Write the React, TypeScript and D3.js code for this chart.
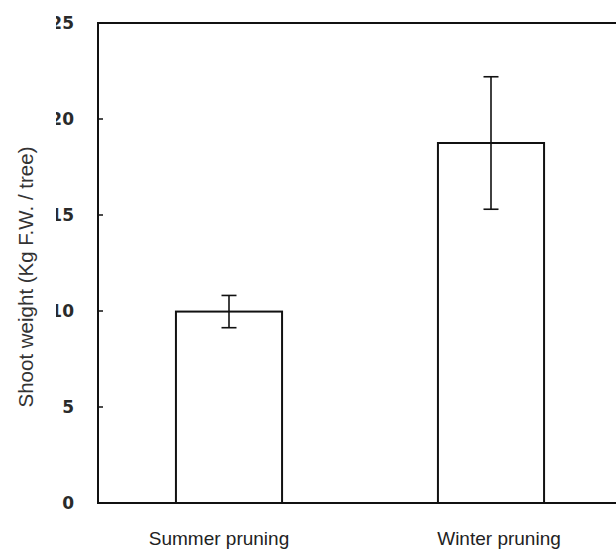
import React from "react";
import * as d3 from "d3";

// Shoot weight per tree by pruning season (mean ± error)
const categories = ["Summer pruning", "Winter pruning"];
const means = [9.97, 18.75];
const errors = [0.84, 3.45];
const yTicks = [0, 5, 10, 15, 20, 25];
// horizontal nudge of each category caption relative to its bar centre
const labelShift = [-10, 8];

const W = 616;
const H = 550;
const plot = { left: 98, right: 622, top: 23, bottom: 503 };

export default function App() {
  const x = d3
    .scaleBand<string>()
    .domain(categories)
    .range([plot.left, plot.right])
    .paddingInner(0.595)
    .paddingOuter(0.2975);
  const y = d3.scaleLinear().domain([0, 25]).range([plot.bottom, plot.top]);

  const capHalf = 7.5;

  return (
    <svg
      width={W}
      height={H}
      style={{ position: "absolute", left: 0, top: 0, background: "#fff" }}
    >
      <defs>
        <clipPath id="tickLabelClip">
          <rect x={56} y={0} width={W} height={H} />
        </clipPath>
      </defs>

      {/* bars */}
      {categories.map((c, i) => (
        <rect
          key={c}
          x={x(c)}
          y={y(means[i])}
          width={x.bandwidth()}
          height={y(0) - y(means[i])}
          fill="#fff"
          stroke="#111"
          strokeWidth={2}
        />
      ))}

      {/* error bars */}
      {categories.map((c, i) => {
        const cx = (x(c) as number) + x.bandwidth() / 2;
        const hi = y(means[i] + errors[i]);
        const lo = y(means[i] - errors[i]);
        return (
          <g key={c + "-err"} stroke="#111" strokeWidth={1.6}>
            <line x1={cx} x2={cx} y1={hi} y2={lo} />
            <line x1={cx - capHalf} x2={cx + capHalf} y1={hi} y2={hi} />
            <line x1={cx - capHalf} x2={cx + capHalf} y1={lo} y2={lo} />
          </g>
        );
      })}

      {/* frame */}
      <g stroke="#111" strokeWidth={2} fill="none">
        <line x1={plot.left} x2={plot.right} y1={plot.top} y2={plot.top} />
        <line x1={plot.left} x2={plot.right} y1={plot.bottom} y2={plot.bottom} />
        <line x1={plot.left} x2={plot.left} y1={plot.top - 1} y2={plot.bottom + 1} />
      </g>

      {/* y ticks (inward) */}
      {yTicks.map((t) => (
        <line
          key={"t" + t}
          x1={plot.left}
          x2={plot.left + 5}
          y1={y(t)}
          y2={y(t)}
          stroke="#111"
          strokeWidth={1.5}
        />
      ))}

      {/* y tick labels */}
      <g clipPath="url(#tickLabelClip)">
        {yTicks.map((t) => (
          <text
            key={"l" + t}
            x={74}
            y={y(t)}
            dy="0.36em"
            textAnchor="end"
            fontFamily="DejaVu Sans"
            fontWeight="bold"
            fontSize={17}
            fill="#2a2a2a"
          >
            {t}
          </text>
        ))}
      </g>

      {/* category labels */}
      {categories.map((c, i) => (
        <text
          key={c + "-lab"}
          x={(x(c) as number) + x.bandwidth() / 2 + labelShift[i]}
          y={545}
          textAnchor="middle"
          fontFamily="Liberation Sans, Arial, sans-serif"
          fontSize={19}
          fill="#222"
        >
          {c}
        </text>
      ))}

      {/* y axis title */}
      <text
        transform={`translate(33, 277) rotate(-90)`}
        textAnchor="middle"
        fontFamily="Liberation Sans, Arial, sans-serif"
        fontSize={20.5}
        fill="#333"
      >
        Shoot weight (Kg F.W. / tree)
      </text>
    </svg>
  );
}
